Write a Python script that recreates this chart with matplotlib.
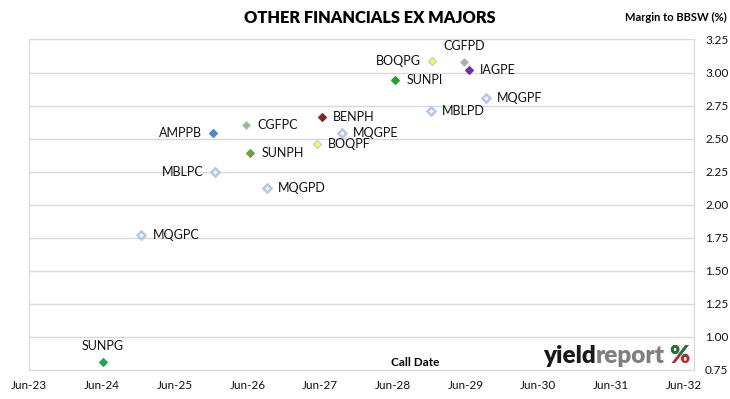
import matplotlib
matplotlib.use("Agg")
from matplotlib import pyplot as plt
import matplotlib.dates as mdates
from matplotlib.patches import Rectangle
import pandas as pd

plt.rcParams['font.family'] = ['Lato', 'DejaVu Sans']

# securities, call dates and margins
names = ['SUNPG', 'MQGPC', 'AMPPB', 'MBLPC', 'CGFPC', 'SUNPH', 'MQGPD', 'BOQPF',
         'BENPH', 'MQGPE', 'SUNPI', 'MBLPD', 'BOQPG', 'CGFPD', 'IAGPE', 'MQGPF']
call_dates = ['2024-06-05', '2024-12-15', '2025-12-12', '2025-12-19', '2026-05-24',
              '2026-06-15', '2026-09-07', '2027-05-14', '2027-06-08', '2027-09-18',
              '2028-06-12', '2028-12-08', '2028-12-15', '2029-05-24', '2029-06-15',
              '2029-09-10']
margins = [0.81, 1.77, 2.54, 2.25, 2.60, 2.39, 2.13, 2.46,
           2.66, 2.54, 2.94, 2.71, 3.09, 3.08, 3.02, 2.81]
label_pos = ['above', 'right', 'left', 'left', 'right', 'right', 'right', 'right',
             'right', 'right', 'right', 'right', 'left', 'above', 'right', 'right']

hollow = '#b4c7e7'
fills = ['#1ea84e', 'white', '#4a86d2', 'white', '#a4b878', '#6f9f3f', 'white', '#ffff33',
         '#7a2a2a', 'white', '#20a820', 'white', '#ffff33', '#a4b090', '#7030a0', 'white']
edges = ['#1ea84e', hollow, '#4a86d2', hollow, hollow, '#6f9f3f', hollow, hollow,
         '#7a2a2a', hollow, '#20a820', hollow, hollow, hollow, '#7030a0', hollow]

dates = pd.to_datetime(call_dates)

fig = plt.figure(figsize=(7.3, 3.99), dpi=100)
ax = fig.add_axes([29.3/730, 1-370/399, (694-29.3)/730, (370-39.5)/399])

for d, m, fc, ec in zip(dates, margins, fills, edges):
    lw = 1.8 if fc == 'white' else 0.8
    ax.plot(d, m, 'D', ms=4.2, mfc=fc, mec=ec, mew=lw, zorder=3)

for name, d, m, pos in zip(names, dates, margins, label_pos):
    if pos == 'right':
        ax.annotate(name, (d, m), xytext=(8, 0), textcoords='offset points',
                    ha='left', va='center', fontsize=9, color='#111111')
    elif pos == 'left':
        ax.annotate(name, (d, m), xytext=(-8, 0), textcoords='offset points',
                    ha='right', va='center', fontsize=9, color='#111111')
    else:
        ax.annotate(name, (d, m), xytext=(0, 11.5), textcoords='offset points',
                    ha='center', va='center', fontsize=9, color='#111111')

x0 = pd.Timestamp('2023-06-01')
ax.set_xlim(x0, x0 + pd.Timedelta(days=9.14*365.25))
ax.set_ylim(0.75, 3.25)
ax.xaxis.set_major_locator(mdates.YearLocator(month=6, day=1))
ax.xaxis.set_major_formatter(mdates.DateFormatter('%b-%y'))
ax.set_yticks([0.75 + 0.25*i for i in range(11)])
ax.yaxis.set_major_formatter(matplotlib.ticker.FormatStrFormatter('%.2f'))
ax.yaxis.tick_right()
ax.tick_params(axis='both', length=0, labelsize=8.5, colors='#111111')
ax.tick_params(axis='y', pad=8)
ax.tick_params(axis='x', pad=7)
ax.grid(axis='y', color='#d9d9d9', lw=1)
ax.set_axisbelow(True)
for s in ['left', 'right', 'bottom']:
    ax.spines[s].set_color('#d9d9d9')
ax.spines['top'].set_visible(False)

fig.text(0.507, 0.955, 'OTHER FINANCIALS EX MAJORS', ha='center', va='center',
         fontsize=11.8, fontweight='heavy', color='black')
fig.text(0.995, 0.955, 'Margin to BBSW (%)', ha='right', va='center',
         fontsize=8, fontweight='bold', color='black')
fig.text(415/730, 1-362/399, 'Call Date', ha='center', va='center',
         fontsize=8.5, fontweight='bold', color='black')

# logo
t1 = fig.text(543/730, 1-363/399, 'yield', ha='left', va='baseline',
              fontsize=17.5, fontweight='heavy', color='#1a1a1a')
t2 = ax.annotate('report', xy=(1, 0), xycoords=t1, ha='left', va='bottom',
                 fontsize=17.5, fontweight='heavy', color='#7f7f7f')
t3 = ax.annotate('%', xy=(1, 0), xycoords=t2, xytext=(3, 0), textcoords='offset points',
                 ha='left', va='bottom', fontsize=17.5, fontweight='heavy', color='#c0202a')
t4 = ax.annotate('%', xy=(1, 0), xycoords=t2, xytext=(3, 0), textcoords='offset points',
                 ha='left', va='bottom', fontsize=17.5, fontweight='heavy', color='#1a7a3a')
clip = Rectangle((0, 1-355/399), 1, 1, transform=fig.transFigure, visible=False)
fig.add_artist(clip)
t4.set_clip_path(clip)

fig.savefig('out.png', dpi=100, facecolor='white')
